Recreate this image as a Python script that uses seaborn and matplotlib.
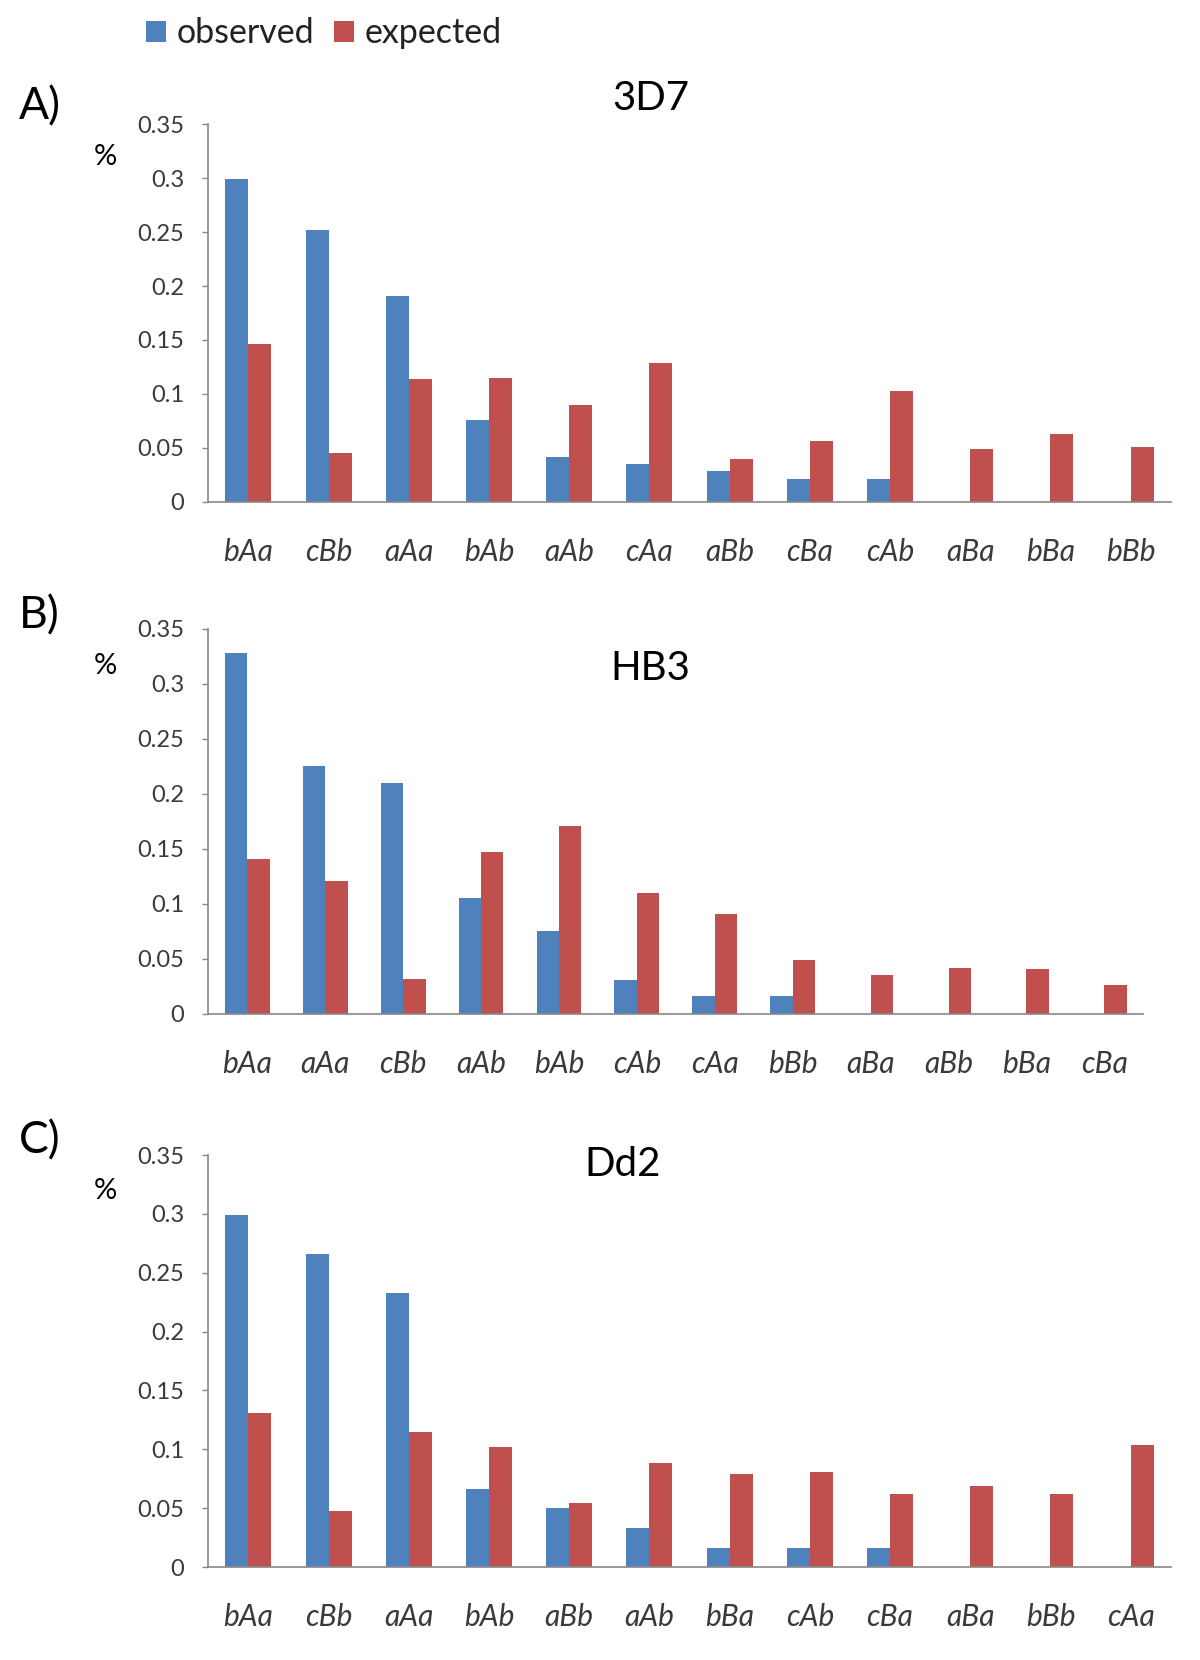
import numpy as np
import pandas as pd
import matplotlib
matplotlib.use("Agg")
import matplotlib.pyplot as plt
from matplotlib.patches import Patch
import seaborn as sns

# Values
cats_3d7 = ['bAa', 'cBb', 'aAa', 'bAb', 'aAb', 'cAa', 'aBb', 'cBa', 'cAb', 'aBa', 'bBa', 'bBb']
obs_3d7 = [0.299, 0.252, 0.191, 0.076, 0.041, 0.035, 0.028, 0.021, 0.021, 0.0, 0.0, 0.0]
exp_3d7 = [0.146, 0.045, 0.114, 0.115, 0.090, 0.129, 0.040, 0.056, 0.103, 0.049, 0.063, 0.051]

cats_hb3 = ['bAa', 'aAa', 'cBb', 'aAb', 'bAb', 'cAb', 'cAa', 'bBb', 'aBa', 'aBb', 'bBa', 'cBa']
obs_hb3 = [0.328, 0.225, 0.210, 0.105, 0.075, 0.031, 0.016, 0.016, 0.0, 0.0, 0.0, 0.0]
exp_hb3 = [0.141, 0.121, 0.032, 0.147, 0.171, 0.110, 0.091, 0.049, 0.035, 0.042, 0.041, 0.026]

cats_dd2 = ['bAa', 'cBb', 'aAa', 'bAb', 'aBb', 'aAb', 'bBa', 'cAb', 'cBa', 'aBa', 'bBb', 'cAa']
obs_dd2 = [0.299, 0.266, 0.233, 0.066, 0.050, 0.033, 0.016, 0.016, 0.016, 0.0, 0.0, 0.0]
exp_dd2 = [0.131, 0.048, 0.115, 0.102, 0.054, 0.088, 0.079, 0.081, 0.062, 0.069, 0.062, 0.104]

panel_tags = ['A)', 'B)', 'C)']
strains = ['3D7', 'HB3', 'Dd2']
series_names = ['observed', 'expected']
ytick_vals = [0, 0.05, 0.1, 0.15, 0.2, 0.25, 0.3, 0.35]
ytick_labels = ['0', '0.05', '0.1', '0.15', '0.2', '0.25', '0.3', '0.35']

BLUE = '#4F81BD'
RED = '#C0504D'
AXIS_GREY = '#888888'
TEXT_GREY = '#3a3a3a'

sns.set_style('white')
plt.rcParams['font.family'] = ['Lato', 'DejaVu Sans']

fig = plt.figure(figsize=(12, 16.6), dpi=100)

# axes boxes in figure fractions: left, bottom, width, height
boxes = [
    [0.1736, 0.6978, 0.8020, 0.2273],
    [0.1736, 0.3892, 0.7792, 0.2319],
    [0.1736, 0.0560, 0.8020, 0.2482],
]
# title centres (x, y) and tag / % positions in figure fractions
title_pos = [(0.542, 0.9407), (0.542, 0.5970), (0.519, 0.2982)]
tag_y = [0.9355, 0.6289, 0.3127]
pct_y = [0.9054, 0.5990, 0.2825]

panels = [
    (cats_3d7, obs_3d7, exp_3d7),
    (cats_hb3, obs_hb3, exp_hb3),
    (cats_dd2, obs_dd2, exp_dd2),
]

for i, (cats, obs, exp) in enumerate(panels):
    df = pd.DataFrame({
        'cat': cats + cats,
        'kind': ['observed'] * len(cats) + ['expected'] * len(cats),
        'value': obs + exp,
    })
    ax = fig.add_axes(boxes[i])
    sns.barplot(data=df, x='cat', y='value', hue='kind', order=cats,
                hue_order=series_names, palette=[BLUE, RED], saturation=1,
                width=0.575, linewidth=0, legend=False, ax=ax)
    ax.set_xlim(-0.5, len(cats) - 0.5)
    ax.set_ylim(0, 0.35)
    ax.set_xlabel('')
    ax.set_ylabel('')
    ax.set_yticks(ytick_vals)
    ax.set_yticklabels(ytick_labels, fontsize=17, color=TEXT_GREY)
    ax.set_xticks(range(len(cats)))
    ax.set_xticklabels(cats, fontsize=21.5, style='italic', color=TEXT_GREY)
    ax.set_xticks(np.arange(-0.5, len(cats)), minor=True)
    ax.tick_params(axis='x', which='major', length=0, pad=26)
    ax.tick_params(axis='x', which='minor', length=7.5, width=1, color=AXIS_GREY)
    ax.tick_params(axis='y', length=4, width=1, color=AXIS_GREY, pad=13.5, left=True)
    for side in ['top', 'right']:
        ax.spines[side].set_visible(False)
    for side in ['left', 'bottom']:
        ax.spines[side].set_color(AXIS_GREY)
        ax.spines[side].set_linewidth(1.2)
    ax.grid(False)

    fig.text(title_pos[i][0], title_pos[i][1], strains[i], fontsize=29,
             ha='center', va='center', color='black')
    fig.text(0.016, tag_y[i], panel_tags[i], fontsize=32, ha='left',
             va='center', color='black')
    fig.text(0.088, pct_y[i], '%', fontsize=21, ha='center', va='center',
             color='black')

handles = [Patch(facecolor=BLUE, edgecolor='none'), Patch(facecolor=RED, edgecolor='none')]
fig.legend(handles, series_names, loc='center left', bbox_to_anchor=(0.122, 0.980),
           ncol=2, frameon=False, fontsize=24.5, handlelength=0.58, handleheight=0.58,
           handletextpad=0.3, columnspacing=0.6, borderpad=0, borderaxespad=0,
           labelcolor='#222222')

fig.savefig('out.png', dpi=100, facecolor='white')
